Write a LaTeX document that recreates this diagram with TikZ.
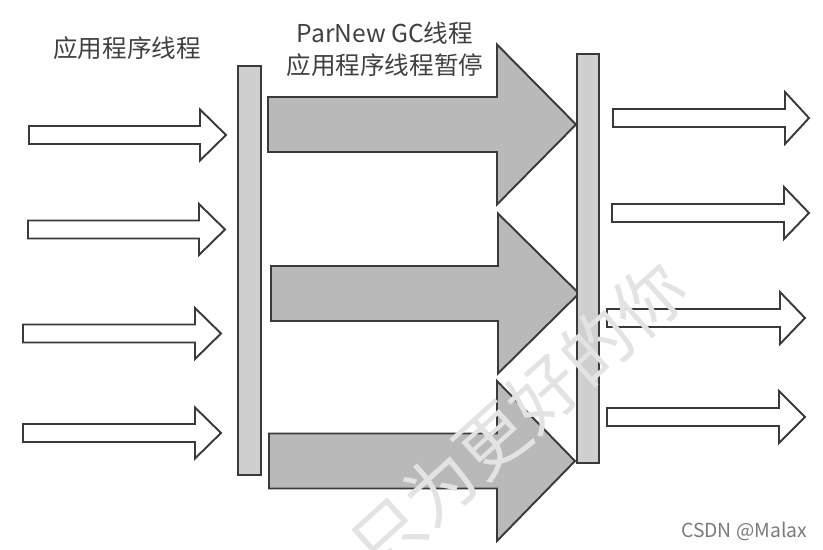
\documentclass[tikz,border=0pt]{standalone}
\usepackage{fontspec}
\setmainfont{Noto Sans CJK SC}
\usetikzlibrary{positioning}
\definecolor{barGrey}{HTML}{CFCFCF}
\definecolor{gcGrey}{HTML}{B9B9B9}
\definecolor{edgeGrey}{HTML}{3A3A3A}
\definecolor{markGrey}{HTML}{7A7A7A}
\tikzset{
  % one unit = one pixel of the original figure, y running downwards
  every picture/.append style = {line width=1.1pt, line join=miter},
  barbox/.style   = {draw=edgeGrey, fill=barGrey},
  apparrow/.style = {draw=edgeGrey, fill=white},
  gcarrow/.style  = {draw=edgeGrey, fill=gcGrey},
  lbl/.style      = {font=\fontsize{14}{17}\selectfont, text=black!75, inner sep=0pt},
  wmark/.style    = {font=\fontsize{40}{40}\selectfont, text=black!11, inner sep=0pt},
  slbl/.style     = {font=\fontsize{11}{13}\selectfont, text=markGrey, inner sep=0pt},
}

\begin{document}
\begin{tikzpicture}[x=0.02cm,y=-0.02cm]
  \useasboundingbox (0,0) rectangle (823,550);
  % application threads before the pause
  \foreach \xa/\xb/\xc/\yc in {29/200/226/135, 28/199/225/229.5,
      23/195/221/333.5, 23/195/221/433}
    \draw[apparrow] (\xa,\yc-9) -- (\xb,\yc-9) -- (\xb,\yc-25.5) -- (\xc,\yc)
      -- (\xb,\yc+25.5) -- (\xb,\yc+9) -- (\xa,\yc+9) -- cycle;
  % GC threads, application paused
  \foreach \xa/\xb/\xc/\yc in {268/497/576/124.5, 271/498/579/293.5,
      269/497/575/461}
    \draw[gcarrow] (\xa,\yc-27.5) -- (\xb,\yc-27.5) -- (\xb,\yc-80) -- (\xc,\yc)
      -- (\xb,\yc+80) -- (\xb,\yc+27.5) -- (\xa,\yc+27.5) -- cycle;
  % application threads after the pause
  \foreach \xa/\xb/\xc/\yc in {613/785/809/118, 612/784/809/213,
      607/780/805/318, 607/779/805/417}
    \draw[apparrow] (\xa,\yc-9) -- (\xb,\yc-9) -- (\xb,\yc-26) -- (\xc,\yc)
      -- (\xb,\yc+26) -- (\xb,\yc+9) -- (\xa,\yc+9) -- cycle;
  % safepoint bars
  \draw[barbox] (238,66) rectangle (261,475);
  \draw[barbox] (577,54) rectangle (599,463);
  % labels
  \node[lbl] (appl) at (127,48) {应用程序线程};
  \node[lbl] (gcl1) at (385,33) {ParNew GC线程};
  \node[lbl] (gcl2) at (385,65) {应用程序线程暂停};
  % watermarks
  \node[wmark, rotate=42] (wm) at (518,417) {只为更好的你};
  \node[slbl, anchor=east] (csdn) at (808,531) {CSDN @Malax};
\end{tikzpicture}
\end{document}
